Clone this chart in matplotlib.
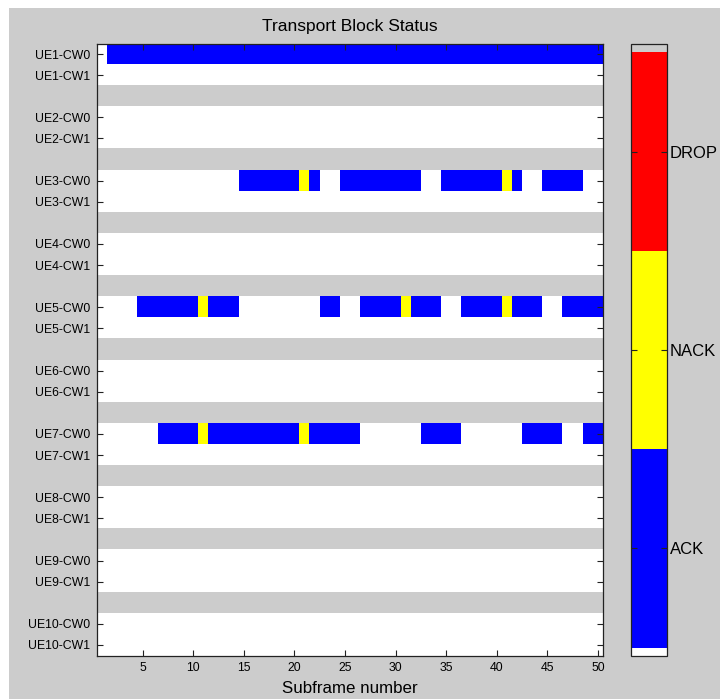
import numpy as np
import matplotlib
matplotlib.use("Agg")
import matplotlib.pyplot as plt
from matplotlib.colors import ListedColormap, BoundaryNorm
from matplotlib.cm import ScalarMappable
from matplotlib.patches import Rectangle

plt.rcParams['font.family'] = ['Liberation Sans', 'DejaVu Sans']

# per-subframe status, 50 subframes: '.' idle, 'A' ACK, 'N' NACK, 'D' DROP
n_subframes = 50
ue_names = ["UE%d" % i for i in range(1, 11)]
cw_names = ["CW0", "CW1"]

ue1_cw0 = ".AAAAAAAAA" "AAAAAAAAAA" "AAAAAAAAAA" "AAAAAAAAAA" "AAAAAAAAAA"
ue3_cw0 = ".........." "....AAAAAA" "NA..AAAAAA" "AA..AAAAAA" "NA..AAAA.."
ue5_cw0 = "....AAAAAA" "NAAA......" "..AA..AAAA" "NAAA..AAAA" "NAAA..AAAA"
ue7_cw0 = "......AAAA" "NAAAAAAAAA" "NAAAAA...." "..AAAA...." "..AAAA..AA"

active = {("UE1", "CW0"): ue1_cw0,
          ("UE3", "CW0"): ue3_cw0,
          ("UE5", "CW0"): ue5_cw0,
          ("UE7", "CW0"): ue7_cw0}

status_labels = ["ACK", "NACK", "DROP"]
code = {".": 0, "A": 1, "N": 2, "D": 3}
SEP = 4

# build the status image: two codeword rows per UE, a grey spacer row between UEs
rows, ylabels, ypos = [], [], []
for i, ue in enumerate(ue_names):
    for cw in cw_names:
        s = active.get((ue, cw), "." * n_subframes)
        rows.append([code[c] for c in s])
        ylabels.append(ue + "-" + cw)
        ypos.append(len(rows))
    if i < len(ue_names) - 1:
        rows.append([SEP] * n_subframes)
img = np.array(rows)
nrows = img.shape[0]

grey = "#cccccc"
colors = ["white", "#0000ff", "#ffff00", "#ff0000", grey]
cmap = ListedColormap(colors)
norm = BoundaryNorm([-0.5, 0.5, 1.5, 2.5, 3.5, 4.5], cmap.N)

fig = plt.figure(figsize=(7.2, 6.99), dpi=100, facecolor="white")
fig.patches.append(Rectangle((9 / 720, 0), 1, 1 - 8 / 699, transform=fig.transFigure,
                             facecolor=grey, edgecolor="none", zorder=-10))

ax = fig.add_axes([97 / 720, 43.5 / 699, 506 / 720, 612 / 699])
ax.imshow(img, cmap=cmap, norm=norm, aspect="auto", interpolation="nearest",
          extent=[0.5, n_subframes + 0.5, nrows + 0.5, 0.5])
ax.set_xlim(0.5, n_subframes + 0.5)
ax.set_ylim(nrows + 0.5, 0.5)
ax.set_xticks(np.arange(5, n_subframes + 1, 5))
ax.set_yticks(ypos)
ax.set_yticklabels(ylabels)
ax.tick_params(direction="in", length=4, width=0.8, color="#222222",
               labelsize=8.8, top=True, right=True, pad=5)
for sp in ax.spines.values():
    sp.set_color("#222222")
    sp.set_linewidth(0.9)
ax.set_title("Transport Block Status", fontsize=12.5, pad=9)
ax.set_xlabel("Subframe number", fontsize=12.2, labelpad=5)

# colorbar with thin idle/spacer ends
cax = fig.add_axes([631 / 720, 43.5 / 699, 36 / 720, 612 / 699])
cb_norm = BoundaryNorm([0.46, 0.5, 1.5, 2.5, 3.5, 3.545], cmap.N)
cb = fig.colorbar(ScalarMappable(norm=cb_norm, cmap=cmap), cax=cax,
                  spacing="proportional", ticks=[1, 2, 3])
cb.minorticks_off()
cb.set_ticklabels(status_labels)
cb.ax.tick_params(direction="in", length=4, width=0.8, color="#222222",
                  labelsize=12, left=True, right=True, pad=2)
cb.outline.set_edgecolor("#222222")
cb.outline.set_linewidth(0.9)

fig.savefig("out.png", dpi=100, facecolor=fig.get_facecolor())
